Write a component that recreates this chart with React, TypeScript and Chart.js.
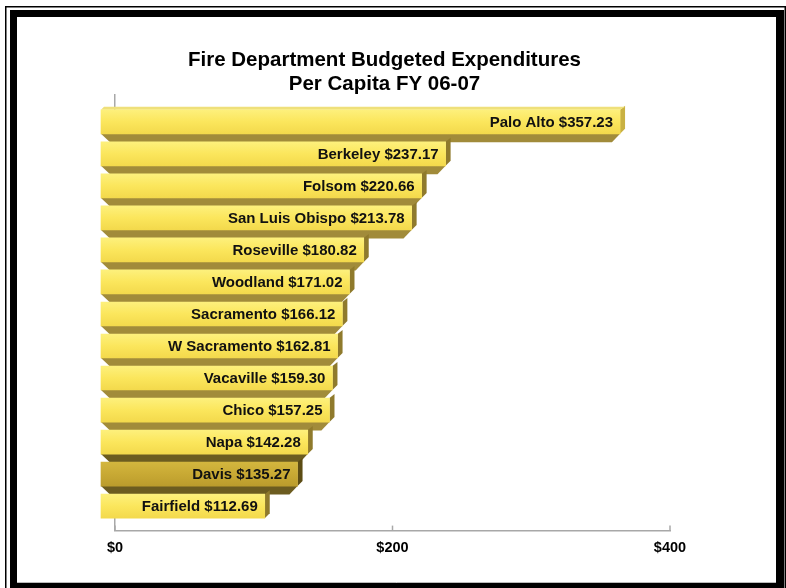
import React, { useEffect, useRef } from "react";
import { Chart, registerables } from "chart.js";
Chart.register(...registerables);

const cities = [
  "Palo Alto",
  "Berkeley",
  "Folsom",
  "San Luis Obispo",
  "Roseville",
  "Woodland",
  "Sacramento",
  "W Sacramento",
  "Vacaville",
  "Chico",
  "Napa",
  "Davis",
  "Fairfield",
];
const values = [357.23, 237.17, 220.66, 213.78, 180.82, 171.02, 166.12, 162.81, 159.3, 157.25, 142.28, 135.27, 112.69];
const highlighted = ["Davis"];
const titleLines = ["Fire Department Budgeted Expenditures", "Per Capita FY 06-07"];
const tickValues = [0, 200, 400];

const FONT = "'Liberation Sans', Arial, Helvetica, sans-serif";

const isHi = (i: number) => highlighted.includes(cities[i]);

const decorPlugin = {
  id: "decor",
  beforeDraw(chart: any) {
    const { ctx, width, height } = chart;
    ctx.save();
    ctx.fillStyle = "#fff";
    ctx.fillRect(0, 0, width, height);
    ctx.strokeStyle = "#000";
    ctx.lineWidth = 1.5;
    ctx.strokeRect(5.75, 6.75, 779.5, 600);
    ctx.fillStyle = "#000";
    ctx.fillRect(10, 10, 774, 600);
    ctx.fillStyle = "#fff";
    ctx.fillRect(17, 17, 759, 566);
    ctx.strokeStyle = "#bbb";
    ctx.lineWidth = 1;
    ctx.beginPath();
    ctx.moveTo(17, 582.5);
    ctx.lineTo(776, 582.5);
    ctx.stroke();
    ctx.restore();
  },
  beforeDatasetsDraw(chart: any) {
    const { ctx } = chart;
    const meta = chart.getDatasetMeta(0);
    const els = meta.data;
    const n = els.length;
    const dx = 9;
    const dy = 8.5;
    ctx.save();
    // strips under each bar (depth faces)
    for (let i = 0; i < n - 1; i++) {
      const p = els[i].getProps(["x", "y", "base", "height"], true);
      const yb = p.y + p.height / 2;
      ctx.fillStyle = isHi(i) || isHi(i + 1) ? "#6c5c20" : "#a18b3a";
      ctx.beginPath();
      ctx.moveTo(p.base, yb);
      ctx.lineTo(p.x, yb);
      ctx.lineTo(p.x - dx * 0.9, yb + dy);
      ctx.lineTo(p.base + dx, yb + dy);
      ctx.closePath();
      ctx.fill();
    }
    // right side faces
    for (let i = 0; i < n; i++) {
      const p = els[i].getProps(["x", "y", "base", "height"], true);
      const yt = p.y - p.height / 2;
      const yb = p.y + p.height / 2;
      ctx.fillStyle = isHi(i) ? "#5c4c14" : i === 0 ? "#c9b142" : "#8f7a2c";
      ctx.beginPath();
      ctx.moveTo(p.x, yt);
      ctx.lineTo(p.x + 5, yt - 4);
      ctx.lineTo(p.x + 5, yb - 5);
      ctx.lineTo(p.x, yb);
      ctx.closePath();
      ctx.fill();
    }
    // thin top face for first bar
    {
      const p = els[0].getProps(["x", "y", "base", "height"], true);
      const yt = p.y - p.height / 2;
      ctx.fillStyle = "#efe07a";
      ctx.beginPath();
      ctx.moveTo(p.base, yt);
      ctx.lineTo(p.base + 3, yt - 3);
      ctx.lineTo(p.x + 5, yt - 3);
      ctx.lineTo(p.x, yt);
      ctx.closePath();
      ctx.fill();
    }
    ctx.restore();
  },
  afterDatasetsDraw(chart: any) {
    const { ctx } = chart;
    const meta = chart.getDatasetMeta(0);
    ctx.save();
    ctx.font = `bold 15px ${FONT}`;
    ctx.fillStyle = "#111";
    ctx.textAlign = "right";
    ctx.textBaseline = "middle";
    meta.data.forEach((el: any, i: number) => {
      const p = el.getProps(["x", "y"], true);
      ctx.fillText(`${cities[i]} $${values[i].toFixed(2)}`, p.x - 7, p.y + 1);
    });
    ctx.restore();
  },
  afterDraw(chart: any) {
    const { ctx } = chart;
    const xs = chart.scales.x;
    ctx.save();
    ctx.strokeStyle = "#a8a8a8";
    ctx.lineWidth = 1.5;
    tickValues.forEach((v) => {
      const px = xs.getPixelForValue(v);
      ctx.beginPath();
      ctx.moveTo(px, xs.top);
      ctx.lineTo(px, xs.top - 5);
      ctx.stroke();
    });
    ctx.restore();
  },
};

export default function App() {
  const ref = useRef<HTMLCanvasElement>(null);
  useEffect(() => {
    const chart = new Chart(ref.current as HTMLCanvasElement, {
      type: "bar",
      data: {
        datasets: [
          {
            data: values.map((v, i) => ({ x: v, y: i })) as any,
            xAxisID: "xBar",
            yAxisID: "y",
            barThickness: 24,
            clip: false as any,
            borderWidth: 0,
            backgroundColor: (c: any) => {
              const hi = isHi(c.dataIndex);
              const area = c.chart.chartArea;
              if (!area) return hi ? "#c8a934" : "#fbe65c";
              const ys = c.chart.scales.y;
              const cy = ys.getPixelForValue(c.dataIndex);
              const g = c.chart.ctx.createLinearGradient(0, cy - 12, 0, cy + 12);
              if (hi) {
                g.addColorStop(0, "#d3b63e");
                g.addColorStop(0.5, "#c8a934");
                g.addColorStop(1, "#bb9c2c");
              } else {
                g.addColorStop(0, "#fdf07c");
                g.addColorStop(0.5, "#fbe65c");
                g.addColorStop(1, "#f3d94c");
              }
              return g;
            },
          } as any,
        ],
      },
      options: {
        indexAxis: "y",
        animation: false,
        responsive: false,
        layout: { padding: { left: 99, right: 116, top: 48, bottom: 22 } },
        plugins: {
          legend: { display: false },
          tooltip: { enabled: false },
          title: {
            display: true,
            text: titleLines,
            color: "#000",
            font: { family: FONT, size: 20.5, weight: "bold", lineHeight: 1.17 },
            padding: { top: 0, bottom: -1 },
          },
        },
        scales: {
          x: {
            type: "linear",
            position: "bottom",
            min: 0,
            max: 400,
            offset: false,
            afterBuildTicks: (s: any) => {
              s.ticks = tickValues.map((v) => ({ value: v }));
            },
            ticks: {
              callback: (v: any) => "$" + v,
              color: "#000",
              font: { family: FONT, size: 14.5, weight: "bold" },
              padding: 9,
              maxRotation: 0,
              autoSkip: false,
            },
            grid: { display: false, drawTicks: false, offset: false },
            border: { display: true, color: "#a8a8a8", width: 1.5 },
          },
          xBar: {
            type: "linear",
            axis: "x",
            display: false,
            offset: false,
            min: 9.64,
            max: 391.6,
          },
          y: {
            type: "linear",
            position: "left",
            reverse: true,
            offset: false,
            min: -0.8385,
            max: 12.764,
            ticks: { display: false },
            grid: { display: false, drawTicks: false, offset: false },
            border: { display: true, color: "#a8a8a8", width: 1.5 },
            afterFit: (s: any) => {
              s.width = 16;
            },
          },
        } as any,
      },
      plugins: [decorPlugin],
    });
    return () => chart.destroy();
  }, []);
  return (
    <div style={{ position: "absolute", left: 0, top: 0, width: 786, height: 588 }}>
      <canvas ref={ref} width={786} height={588} style={{ width: 786, height: 588, display: "block" }} />
    </div>
  );
}
